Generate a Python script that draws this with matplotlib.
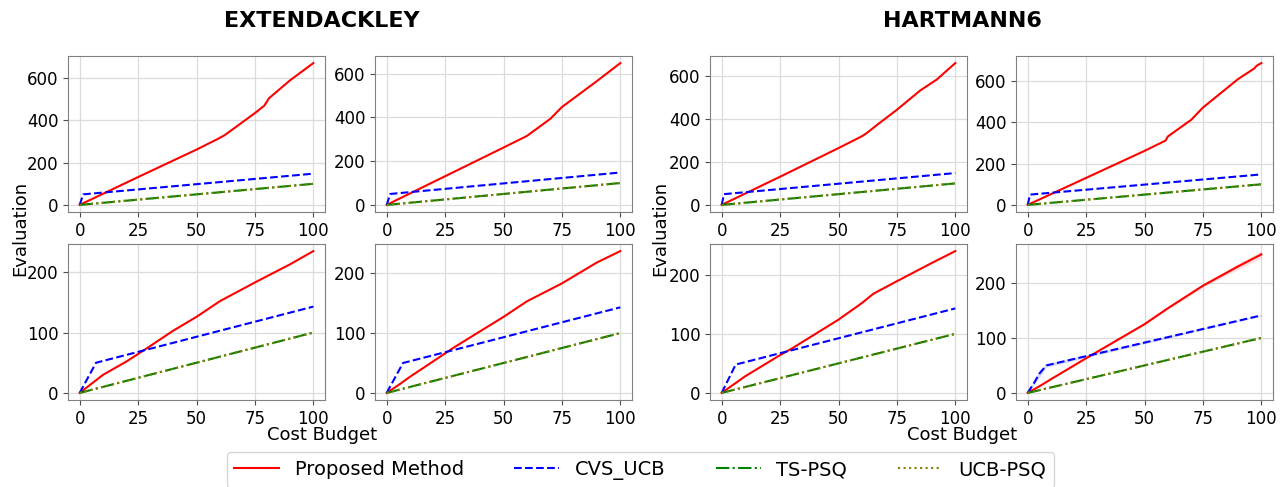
import matplotlib
matplotlib.use("Agg")
import matplotlib.pyplot as plt

# baselines shared by every panel (TS-PSQ and UCB-PSQ overlap)
psq_x = [0, 100]
ts_psq_y = [0, 100]
ucb_psq_y = [0, 100]

# EXTENDACKLEY, top row
ack_top1_red_x = [0, 25, 50, 59, 62, 75, 79, 81, 90, 100]
ack_top1_red_y = [0, 132, 262, 312, 330, 435, 470, 505, 590, 672]
ack_top2_red_x = [0, 25, 50, 60, 70, 75, 90, 100]
ack_top2_red_y = [0, 131, 262, 315, 393, 447, 566, 648]
ack_top_cvs_x = [0, 1.5, 100]
ack_top_cvs_y = [0, 50, 148]

# EXTENDACKLEY, bottom row
ack_bot1_red_x = [0, 5, 10, 20, 28, 40, 50, 60, 75, 90, 100]
ack_bot1_red_y = [0, 15, 30, 52, 72, 103, 126, 152, 183, 213, 235]
ack_bot2_red_x = [0, 5, 10, 25, 28, 40, 50, 60, 75, 90, 100]
ack_bot2_red_y = [0, 13, 27, 66, 74, 103, 127, 153, 183, 218, 237]
ack_bot_cvs_x = [0, 7, 100]
ack_bot_cvs_y = [0, 50, 143]

# HARTMANN6, top row
hart_top1_red_x = [0, 25, 50, 60, 62, 67, 75, 85, 92, 100]
hart_top1_red_y = [0, 131, 264, 319, 333, 376, 442, 532, 582, 659]
hart_top2_red_x = [0, 25, 50, 59, 60, 70, 75, 90, 97, 98, 100]
hart_top2_red_y = [0, 131, 262, 312, 332, 413, 472, 610, 662, 675, 688]
hart_top_cvs_x = [0, 1, 100]
hart_top_cvs_y = [0, 50, 148]

# HARTMANN6, bottom row
hart_bot1_red_x = [0, 5, 10, 25, 30, 50, 60, 65, 75, 90, 100]
hart_bot1_red_y = [0, 14, 28, 64, 75, 124, 152, 168, 189, 220, 240]
hart_bot1_cvs_x = [0, 6, 100]
hart_bot1_cvs_y = [0, 48, 143]
hart_bot2_red_x = [0, 5, 10, 25, 50, 60, 75, 90, 100]
hart_bot2_red_y = [0, 12, 25, 63, 125, 154, 195, 230, 252]
hart_bot2_red_sd = [0, 0.5, 0.5, 1, 1.5, 2, 3, 5, 6]
hart_bot2_cvs_x = [0, 3, 5, 8, 100]
hart_bot2_cvs_y = [0, 20, 35, 50, 141]
hart_bot2_cvs_sd = [0, 4, 7, 3, 1]

W, H = 1288, 487
col_left = [68, 375, 710, 1016]
ax_w = 257
ax_h = 156
row_bottom = [212, 400]

fig = plt.figure(figsize=(W / 100, H / 100), dpi=100)


def make_ax(row, col):
    ax = fig.add_axes([col_left[col] / W, 1 - row_bottom[row] / H, ax_w / W, ax_h / H])
    ax.grid(True, color="#dcdcdc", linewidth=0.9)
    ax.set_axisbelow(True)
    for s in ax.spines.values():
        s.set_color("0.5")
    ax.tick_params(labelsize=12, color="0.3")
    ax.set_xticks([0, 25, 50, 75, 100])
    return ax


def draw(ax, red_x, red_y, cvs_x, cvs_y):
    ax.plot(red_x, red_y, color="red", lw=1.5, label="Proposed Method")
    ax.plot(cvs_x, cvs_y, color="blue", lw=1.5, ls="--", label="CVS_UCB")
    ax.plot(psq_x, ts_psq_y, color="green", lw=1.5, ls="-.", label="TS-PSQ")
    ax.plot(psq_x, ucb_psq_y, color="olive", lw=1.5, ls=":", label="UCB-PSQ")


panels = [
    (0, 0, ack_top1_red_x, ack_top1_red_y, ack_top_cvs_x, ack_top_cvs_y),
    (0, 1, ack_top2_red_x, ack_top2_red_y, ack_top_cvs_x, ack_top_cvs_y),
    (1, 0, ack_bot1_red_x, ack_bot1_red_y, ack_bot_cvs_x, ack_bot_cvs_y),
    (1, 1, ack_bot2_red_x, ack_bot2_red_y, ack_bot_cvs_x, ack_bot_cvs_y),
    (0, 2, hart_top1_red_x, hart_top1_red_y, hart_top_cvs_x, hart_top_cvs_y),
    (0, 3, hart_top2_red_x, hart_top2_red_y, hart_top_cvs_x, hart_top_cvs_y),
    (1, 2, hart_bot1_red_x, hart_bot1_red_y, hart_bot1_cvs_x, hart_bot1_cvs_y),
    (1, 3, hart_bot2_red_x, hart_bot2_red_y, hart_bot2_cvs_x, hart_bot2_cvs_y),
]

axes = {}
for row, col, rx, ry, cx, cy in panels:
    ax = make_ax(row, col)
    draw(ax, rx, ry, cx, cy)
    axes[(row, col)] = ax

# faint spread bands on the last panel
ax = axes[(1, 3)]
ax.fill_between(hart_bot2_red_x,
                [y - s for y, s in zip(hart_bot2_red_y, hart_bot2_red_sd)],
                [y + s for y, s in zip(hart_bot2_red_y, hart_bot2_red_sd)],
                color="red", alpha=0.15, lw=0)
ax.fill_between(hart_bot2_cvs_x,
                [y - s for y, s in zip(hart_bot2_cvs_y, hart_bot2_cvs_sd)],
                [y + s for y, s in zip(hart_bot2_cvs_y, hart_bot2_cvs_sd)],
                color="blue", alpha=0.15, lw=0)

# titles and shared labels
fig.text(322 / W, 1 - 21 / H, "EXTENDACKLEY", fontsize=16, fontweight="bold", ha="center", va="center")
fig.text(962 / W, 1 - 21 / H, "HARTMANN6", fontsize=16, fontweight="bold", ha="center", va="center")
fig.text(322 / W, 1 - 435 / H, "Cost Budget", fontsize=13, ha="center", va="center")
fig.text(962 / W, 1 - 435 / H, "Cost Budget", fontsize=13, ha="center", va="center")
fig.text(20 / W, 1 - 228 / H, "Evaluation", fontsize=13, rotation=90, ha="center", va="center")
fig.text(660 / W, 1 - 228 / H, "Evaluation", fontsize=13, rotation=90, ha="center", va="center")

handles, labels = axes[(0, 0)].get_legend_handles_labels()
fig.legend(handles, labels, loc="lower center", bbox_to_anchor=(0.497, -0.022), ncol=4,
           fontsize=14, handlelength=2.3, columnspacing=2.6, frameon=True)

fig.savefig("out.png", dpi=100)
